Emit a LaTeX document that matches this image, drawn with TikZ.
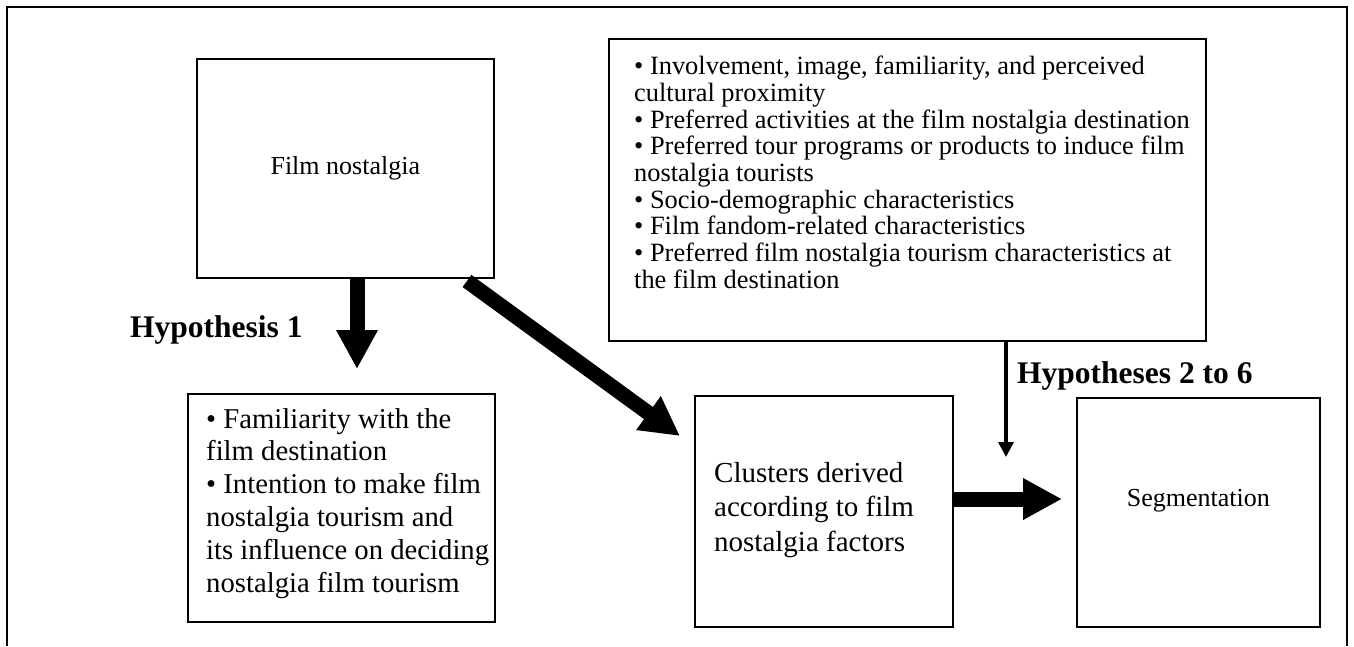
\documentclass[tikz,border=0pt]{standalone}
\usepackage{fontspec}
\setmainfont{Liberation Serif}
\usetikzlibrary{arrows.meta}
\begin{document}
\begin{tikzpicture}[x=1pt,y=-1pt,
  box/.style={draw=black,line width=1.6pt,inner sep=0pt,anchor=north west},
  bodytext/.style={inner sep=0pt,anchor=north west,align=left},
  thickarrow/.style={line width=15pt,-{Triangle[length=39pt,width=39pt]}},
  thinarrow/.style={line width=3.3pt,-{Triangle[length=15pt,width=15pt]}},
  hyplabel/.style={inner sep=0pt,anchor=base west,font=\fontsize{31.5}{36}\selectfont\bfseries}
]
\useasboundingbox (0,0) rectangle (1354,646);
% outer frame (open at the bottom)
\draw[line width=2pt] (7,646) -- (7,7) -- (1347,7) -- (1347,646);

% boxes
\node[box,minimum width=297pt,minimum height=219pt] (film) at (196,58) {};
\node[box,minimum width=597pt,minimum height=302pt] (factors) at (608,38) {};
\node[box,minimum width=307pt,minimum height=228pt] (famil) at (187,393) {};
\node[box,minimum width=258pt,minimum height=231pt] (clusters) at (694,395) {};
\node[box,minimum width=243pt,minimum height=229pt] (segm) at (1076,397) {};

% texts
\node[inner sep=0pt,font=\fontsize{26}{30}\selectfont] (filmtext) at (film.center) {Film nostalgia};
\node[inner sep=0pt,font=\fontsize{26}{30}\selectfont] (segmtext) at ([yshift=12pt]segm.center) {Segmentation};
\node[bodytext,font=\fontsize{26.4}{26.7}\selectfont] (factorstext) at (634,56) {%
• Involvement, image, familiarity, and perceived\\
cultural proximity\\
• Preferred activities at the film nostalgia destination\\
• Preferred tour programs or products to induce film\\
nostalgia tourists\\
• Socio-demographic characteristics\\
• Film fandom-related characteristics\\
• Preferred film nostalgia tourism characteristics at\\
the film destination};
\begin{scope}
\clip (187,393) rectangle (494,598);
\node[bodytext,font=\fontsize{28.7}{32.8}\selectfont] (familtext) at (206,408) {%
• Familiarity with the\\
film destination\\
• Intention to make film\\
nostalgia tourism and\\
its influence on deciding\\
nostalgia film tourism};
\end{scope}
\node[bodytext,font=\fontsize{29}{34.5}\selectfont] (clustertext) at (714,462) {%
Clusters derived\\
according to film\\
nostalgia factors};

\node[hyplabel] (hyp1) at (130,337) {Hypothesis 1};
\node[hyplabel] (hyp2) at (1017,383) {Hypotheses 2 to 6};

% connectors
\coordinate (h1tip) at (357,369);
\coordinate (dstart) at (467,281);
\coordinate (dtip) at (680,436);
\coordinate (htip) at (1062,499);
\coordinate (vtip) at (1006,457);
\draw[thickarrow] (film.south -| h1tip) -- (h1tip);
\draw[thickarrow] (dstart) -- (dtip);
\draw[thickarrow] (clusters.east |- htip) -- (htip);
\draw[thinarrow] (factors.south -| vtip) -- (vtip);
\end{tikzpicture}
\end{document}
